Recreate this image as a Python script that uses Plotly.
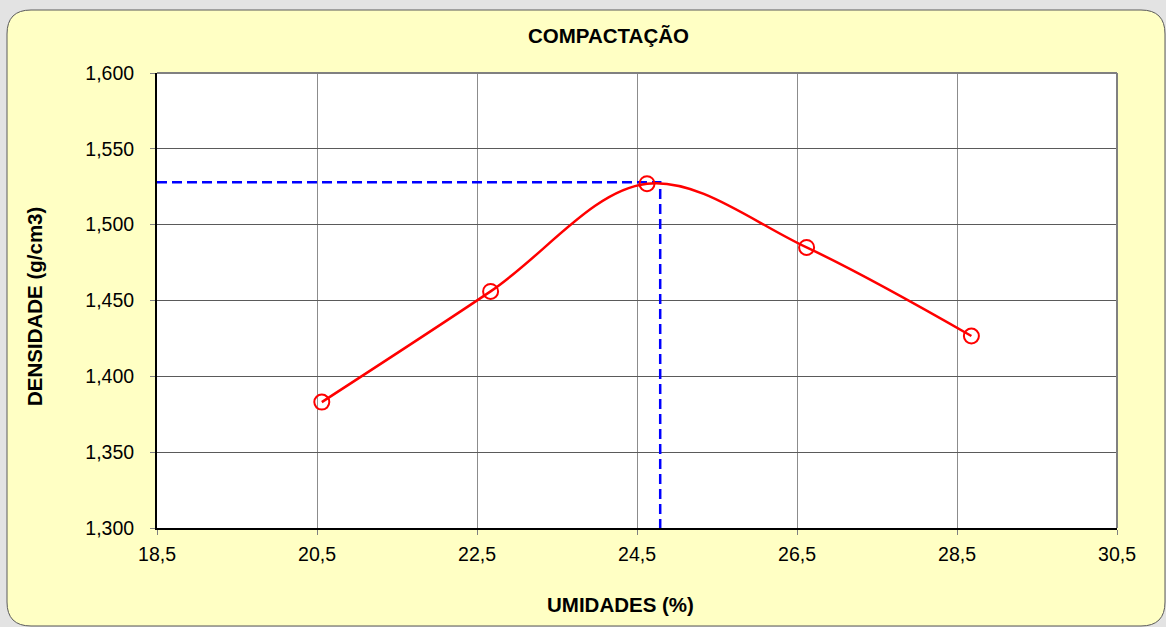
import plotly.graph_objects as go

# Data
umidade = [20.56, 22.67, 24.625, 26.62, 28.68]
densidade = [1.383, 1.456, 1.527, 1.485, 1.4266]
umidade_otima = 24.79
densidade_max = 1.528

x_range = [18.5, 30.5]
y_range = [1.300, 1.600]

W, H = 1166, 627
ML, MR, MT, MB = 157, 49, 73, 99
PW, PH = W - ML - MR, H - MT - MB


def px2paper(px, py):
    return (px - ML) / PW, (H - MB - py) / PH


def rounded_rect(x0, y0, x1, y1, r):
    def P(x, y):
        a, b = px2paper(x, y)
        return f"{a:.5f},{b:.5f}"
    return (
        f"M {P(x0 + r, y0)} L {P(x1 - r, y0)} Q {P(x1, y0)} {P(x1, y0 + r)} "
        f"L {P(x1, y1 - r)} Q {P(x1, y1)} {P(x1 - r, y1)} "
        f"L {P(x0 + r, y1)} Q {P(x0, y1)} {P(x0, y1 - r)} "
        f"L {P(x0, y0 + r)} Q {P(x0, y0)} {P(x0 + r, y0)} Z"
    )


fig = go.Figure()

# dashed guide lines
fig.add_trace(go.Scatter(
    x=[x_range[0], umidade_otima, umidade_otima],
    y=[densidade_max, densidade_max, y_range[0]],
    mode="lines",
    line=dict(color="#0000FF", width=2.5, dash="10px,5px"),
    hoverinfo="skip", showlegend=False,
))

# compaction curve
fig.add_trace(go.Scatter(
    x=umidade, y=densidade,
    mode="lines+markers",
    line=dict(color="#FF0000", width=2.5, shape="spline", smoothing=1.0),
    marker=dict(symbol="circle-open", size=15, color="#FF0000", line=dict(width=2, color="#FF0000")),
    showlegend=False,
))

shapes = [
    dict(type="path", xref="paper", yref="paper", path=rounded_rect(7, 10, 1165, 626, 24),
         fillcolor="#FFFFC4", line=dict(color="#5a5a5a", width=1), layer="below"),
    dict(type="rect", xref="paper", yref="paper", x0=0, y0=0, x1=1, y1=1,
         fillcolor="white", line=dict(width=0), layer="below"),
    dict(type="line", xref="paper", yref="paper", x0=0, y0=1, x1=1, y1=1,
         line=dict(color="#808080", width=2), layer="above"),
    dict(type="line", xref="paper", yref="paper", x0=1, y0=0, x1=1, y1=1,
         line=dict(color="#808080", width=2), layer="above"),
]

font_family = "Liberation Sans, Arial, sans-serif"
FS = 19.5
FT = 20.5

fig.update_layout(
    width=W, height=H,
    margin=dict(l=ML, r=MR, t=MT, b=MB),
    paper_bgcolor="#E3E3E3",
    plot_bgcolor="white",
    separators=",.",
    font=dict(family=font_family, size=FS, color="black"),
    shapes=shapes,
    xaxis=dict(
        range=x_range, tick0=18.5, dtick=2, tickformat=".1f",
        showgrid=True, gridcolor="#8c8c8c", gridwidth=1,
        showline=True, linecolor="black", linewidth=2,
        ticks="outside", ticklen=5, tickcolor="#808080",
        ticklabelstandoff=3,
        zeroline=False, fixedrange=True,
    ),
    yaxis=dict(
        range=y_range, tick0=1.3, dtick=0.05, tickformat=".3f",
        showgrid=True, gridcolor="#5a5a5a", gridwidth=1,
        showline=True, linecolor="black", linewidth=2,
        ticks="outside", ticklen=5, tickcolor="#808080",
        ticklabelstandoff=12,
        zeroline=False, fixedrange=True,
    ),
    annotations=[
        dict(text="<b>COMPACTAÇÃO</b>", xref="paper", yref="paper",
             x=px2paper(608, 35)[0], y=px2paper(608, 35)[1], showarrow=False,
             font=dict(size=FT, family=font_family), xanchor="center", yanchor="middle"),
        dict(text="<b>UMIDADES (%)</b>", xref="paper", yref="paper",
             x=px2paper(620, 604)[0], y=px2paper(620, 604)[1], showarrow=False,
             font=dict(size=FT, family=font_family), xanchor="center", yanchor="middle"),
        dict(text="<b>DENSIDADE (g/cm3)</b>", xref="paper", yref="paper",
             x=px2paper(34, 307)[0], y=px2paper(34, 307)[1], showarrow=False, textangle=-90,
             font=dict(size=FT, family=font_family), xanchor="center", yanchor="middle"),
    ],
)

fig.write_html("out.html", config={"displayModeBar": False},
               post_script="document.body.style.margin='0';document.body.style.background='#E3E3E3';")
